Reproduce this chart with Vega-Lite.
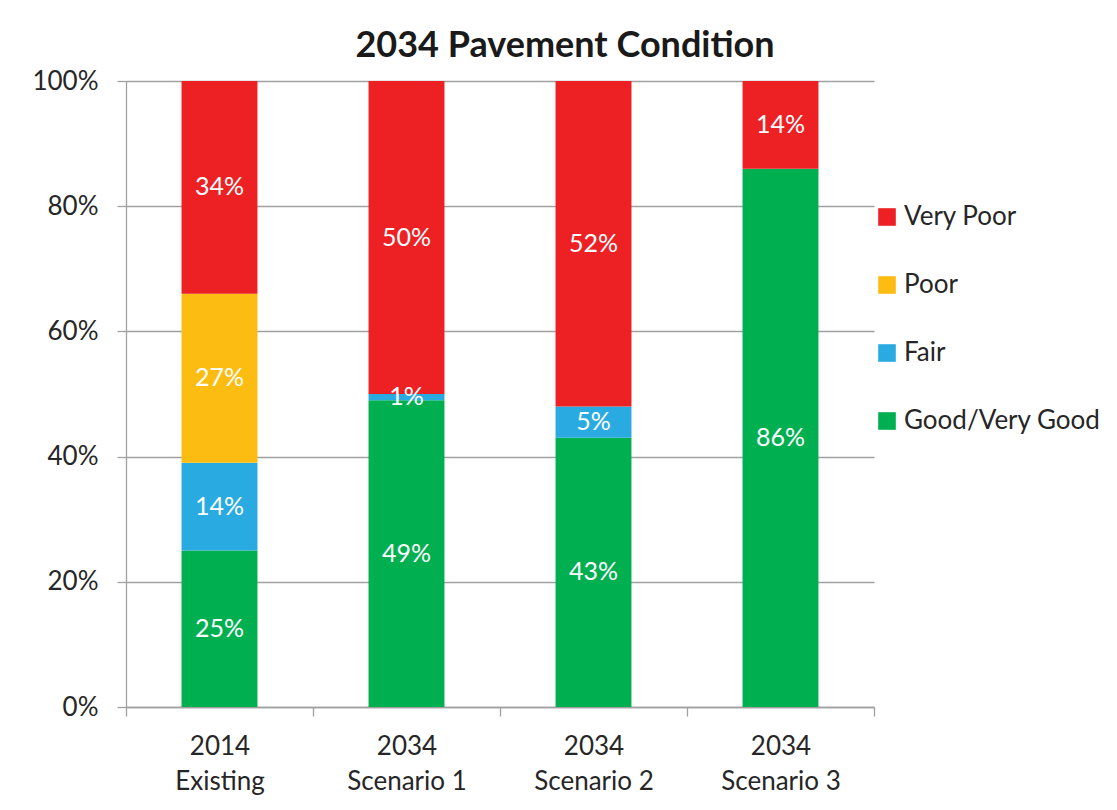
{
  "$schema": "https://vega.github.io/schema/vega-lite/v6.json",
  "autosize": "none",
  "width": 748,
  "height": 626,
  "padding": {"left": 126, "top": 81, "right": 243, "bottom": 103},
  "background": "white",
  "title": {
    "text": "2034 Pavement Condition",
    "font": "Lato",
    "fontSize": 36,
    "fontWeight": "bold",
    "color": "#1a1a1a",
    "anchor": "middle",
    "frame": "group",
    "dx": 65,
    "offset": 3
  },
  "data": {
    "values": [
      {"scenario": "2014 Existing", "condition": "Good/Very Good", "pct": 25},
      {"scenario": "2014 Existing", "condition": "Fair", "pct": 14},
      {"scenario": "2014 Existing", "condition": "Poor", "pct": 27},
      {"scenario": "2014 Existing", "condition": "Very Poor", "pct": 34},
      {"scenario": "2034 Scenario 1", "condition": "Good/Very Good", "pct": 49},
      {"scenario": "2034 Scenario 1", "condition": "Fair", "pct": 1},
      {"scenario": "2034 Scenario 1", "condition": "Very Poor", "pct": 50},
      {"scenario": "2034 Scenario 2", "condition": "Good/Very Good", "pct": 43},
      {"scenario": "2034 Scenario 2", "condition": "Fair", "pct": 5},
      {"scenario": "2034 Scenario 2", "condition": "Very Poor", "pct": 52},
      {"scenario": "2034 Scenario 3", "condition": "Good/Very Good", "pct": 86},
      {"scenario": "2034 Scenario 3", "condition": "Very Poor", "pct": 14}
    ]
  },
  "transform": [
    {"calculate": "indexof(['Good/Very Good','Fair','Poor','Very Poor'], datum.condition)", "as": "stackRank"},
    {"stack": "pct", "groupby": ["scenario"], "sort": [{"field": "stackRank", "order": "ascending"}], "as": ["lo", "hi"]},
    {"calculate": "(datum.lo + datum.hi) / 2", "as": "mid"},
    {"calculate": "datum.pct + '%'", "as": "pctLabel"}
  ],
  "encoding": {
    "x": {
      "field": "scenario",
      "type": "nominal",
      "sort": null,
      "scale": {"paddingInner": 0, "paddingOuter": 0},
      "axis": {
        "title": null,
        "labelAngle": 0,
        "labelExpr": "[substring(datum.label, 0, 4), substring(datum.label, 5)]",
        "labelFont": "Lato",
        "labelFontSize": 26,
        "labelColor": "#262626",
        "labelLineHeight": 35,
        "labelPadding": 17,
        "tickBand": "extent",
        "tickSize": 9,
        "tickColor": "#a0a0a0",
        "tickWidth": 1.3,
        "domainColor": "#a0a0a0",
        "domainWidth": 1.3,
        "grid": false
      }
    }
  },
  "layer": [
    {
      "mark": {"type": "bar", "width": {"band": 0.406}},
      "encoding": {
        "y": {
          "field": "lo",
          "type": "quantitative",
          "scale": {"domain": [0, 100], "nice": false},
          "axis": {
            "title": null,
            "values": [0, 20, 40, 60, 80, 100],
            "labelExpr": "datum.value + '%'",
            "labelFont": "Lato",
            "labelFontSize": 26,
            "labelColor": "#262626",
            "labelPadding": 19,
            "tickSize": 9,
            "tickColor": "#a0a0a0",
            "tickWidth": 1.3,
            "domainColor": "#a0a0a0",
            "domainWidth": 1.3,
            "grid": true,
            "gridColor": "#a0a0a0",
            "gridWidth": 1.3
          }
        },
        "y2": {"field": "hi"},
        "color": {
          "field": "condition",
          "type": "nominal",
          "scale": {
            "domain": ["Very Poor", "Poor", "Fair", "Good/Very Good"],
            "range": ["#ED2024", "#FDBC11", "#29ABE2", "#00B050"]
          },
          "legend": {
            "title": null,
            "orient": "none",
            "legendX": 748,
            "legendY": 123,
            "symbolType": "square",
            "symbolSize": 310,
            "symbolStrokeWidth": 0,
            "labelFont": "Lato",
            "labelFontSize": 26,
            "labelColor": "#262626",
            "labelOffset": 4,
            "labelLimit": 300,
            "rowPadding": 42
          }
        }
      }
    },
    {
      "mark": {"type": "text", "color": "white", "font": "Lato", "fontSize": 25, "baseline": "middle"},
      "encoding": {
        "y": {"field": "mid", "type": "quantitative"},
        "text": {"field": "pctLabel", "type": "nominal"},
        "detail": {"field": "condition"}
      }
    }
  ],
  "resolve": {"scale": {"y": "shared"}},
  "config": {"view": {"stroke": null}}
}
